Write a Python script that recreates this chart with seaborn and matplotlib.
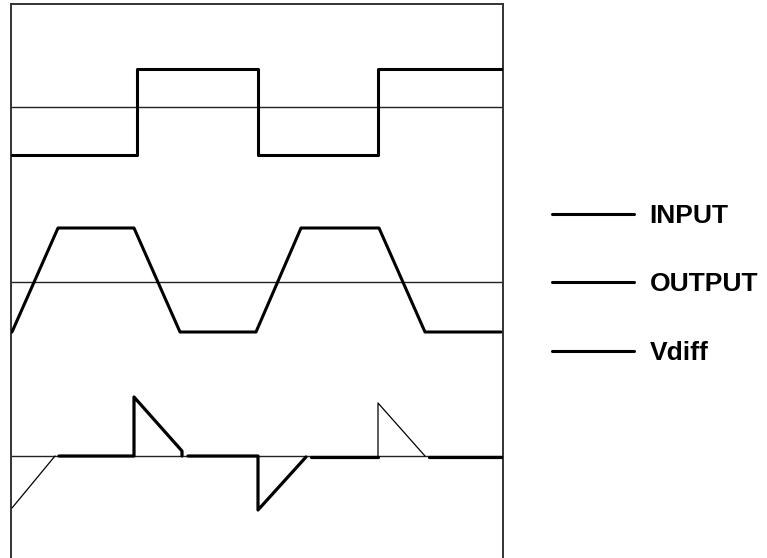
import matplotlib
matplotlib.use("Agg")
import matplotlib.pyplot as plt
from matplotlib.lines import Line2D
import seaborn as sns
import pandas as pd

sns.set_theme(style="white")
plt.rcParams['font.family'] = ['Liberation Sans', 'DejaVu Sans']

# time axis in arbitrary units, traces drawn around their own baseline
input_t = [1, 126, 126, 247, 247, 367, 367, 491]
input_v = [-48, -48, 38, 38, -48, -48, 38, 38]

output_t = [1, 47, 123, 169, 245, 290, 368, 414, 490]
output_v = [-50, 54, 54, -50, -50, 54, 54, -50, -50]

# Vdiff is drawn in pieces, thin (0) or thick (1)
vdiff_seg = [0, 0, 1, 1, 1, 1, 1, 1, 1, 1, 1, 1, 1, 1, 0, 0, 0, 1, 1]
vdiff_id = [0, 0, 1, 1, 1, 1, 1, 2, 2, 2, 2, 2, 3, 3, 5, 5, 5, 6, 6]
vdiff_t = [1, 44, 48, 123, 123, 171, 171, 177, 247, 247, 295, 295, 300, 367, 367, 367, 414, 418, 491]
vdiff_v = [-52, 0, 0, 0, 59, 5, 0, 0, 0, -54, -1, -1, -1, -1, 0, 53, 0, -1, -1]

labels = ["INPUT", "OUTPUT", "Vdiff"]
baselines = {"INPUT": 451, "OUTPUT": 276, "Vdiff": 102}

fig = plt.figure(figsize=(7.67, 5.58), dpi=100)
ax = fig.add_axes([11 / 767, 0.0, 492 / 767, 554.5 / 558])

inp = pd.DataFrame({"t": input_t, "v": input_v})
inp["y"] = inp["v"] + baselines["INPUT"]
out = pd.DataFrame({"t": output_t, "v": output_v})
out["y"] = out["v"] + baselines["OUTPUT"]
vd = pd.DataFrame({"t": vdiff_t, "v": vdiff_v, "seg": vdiff_id, "thick": vdiff_seg})
vd["y"] = vd["v"] + baselines["Vdiff"]

# zero lines
for name in labels:
    ax.axhline(baselines[name], color="#222222", lw=1.0, zorder=1)

sns.lineplot(data=inp, x="t", y="y", ax=ax, color="black", lw=2.2,
             estimator=None, sort=False, zorder=3)
sns.lineplot(data=out, x="t", y="y", ax=ax, color="black", lw=2.2,
             estimator=None, sort=False, zorder=3)
for sid, g in vd.groupby("seg"):
    w = 2.3 if g["thick"].iloc[0] == 1 else 0.9
    sns.lineplot(data=g, x="t", y="y", ax=ax, color="black", lw=w,
                 estimator=None, sort=False, zorder=3)

ax.set_xlim(0, 492)
ax.set_ylim(0, 554.5)
ax.set_xticks([])
ax.set_yticks([])
ax.set_xlabel("")
ax.set_ylabel("")
for side in ["top", "left", "right"]:
    ax.spines[side].set_color("#333333")
    ax.spines[side].set_linewidth(1.4)
ax.spines["bottom"].set_visible(False)

handles = [Line2D([], [], color="black", lw=2.2) for _ in labels]
leg = fig.legend(handles, labels, loc="upper left", bbox_to_anchor=(528 / 767, 1 - 180 / 558),
                 frameon=False, handlelength=3.1, handletextpad=0.6, labelspacing=1.69,
                 labelcolor="black",
                 prop={"family": "Liberation Sans", "weight": "bold", "size": 19})

fig.savefig("out.png", dpi=100)
